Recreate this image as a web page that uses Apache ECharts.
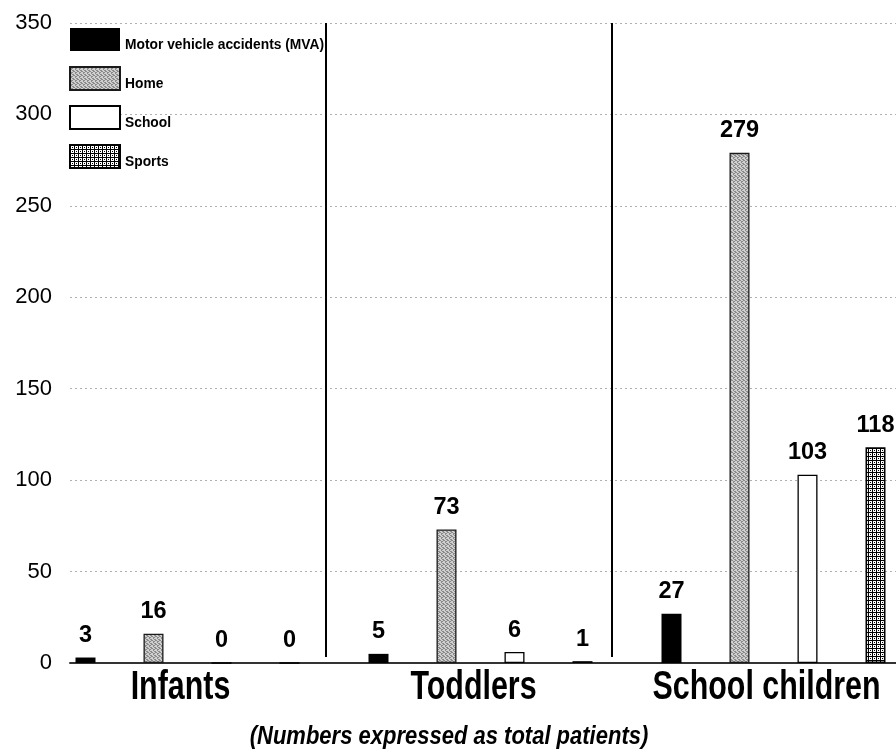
<!DOCTYPE html>
<html>
<head>
<meta charset="utf-8">
<script src="https://cdn.jsdelivr.net/npm/echarts@6/dist/echarts.min.js"></script>
<style>
  html, body { margin: 0; padding: 0; background: #fff; }
  #chart { width: 896px; height: 750px; }
</style>
</head>
<body>
<div id="chart"></div>
<script>
// Injury setting by age group (total patients)
const categories = ['Infants', 'Toddlers', 'School children'];
const seriesNames = ['Motor vehicle accidents (MVA)', 'Home', 'School', 'Sports'];
const mvaValues = [3, 5, 27];
const homeValues = [16, 73, 279];
const schoolValues = [0, 6, 103];
const sportsValues = [0, 1, 118];
const yMin = 0, yMax = 350, yStep = 50;
const footnote = '(Numbers expressed as total patients)';

const SANS = "'Liberation Sans', Arial, sans-serif";

// Small repeating tiles for the hatched bar fills
function makeTile(w, h, paint) {
  const c = document.createElement('canvas');
  c.width = w; c.height = h;
  const ctx = c.getContext('2d');
  paint(ctx);
  return c;
}
const stippleTile = makeTile(4, 4, ctx => {
  ctx.fillStyle = '#cfcfcf'; ctx.fillRect(0, 0, 4, 4);
  ctx.fillStyle = '#8a8a8a';
  [[0,0],[2,1],[1,2],[3,3],[3,0],[1,1],[2,3]].forEach(([x, y]) => ctx.fillRect(x, y, 1, 1));
});
const gridTile = makeTile(4, 4, ctx => {
  ctx.fillStyle = '#ffffff'; ctx.fillRect(0, 0, 4, 4);
  ctx.fillStyle = '#000000';
  ctx.fillRect(0, 0, 4, 1);
  ctx.fillRect(0, 0, 1, 4);
  ctx.fillRect(2, 2, 1, 1);
});

const styles = [
  { color: '#000000', borderColor: '#000000', borderWidth: 0 },
  { color: { image: stippleTile, repeat: 'repeat' }, borderColor: '#1a1a1a', borderWidth: 1.3 },
  { color: '#ffffff', borderColor: '#000000', borderWidth: 1.3 },
  { color: { image: gridTile, repeat: 'repeat' }, borderColor: '#000000', borderWidth: 1.6 }
];
const valueSets = [mvaValues, homeValues, schoolValues, sportsValues];

const chart = echarts.init(document.getElementById('chart'), null, { renderer: 'canvas' });

chart.setOption({
  animation: false,
  backgroundColor: '#ffffff',
  legend: {
    orient: 'vertical',
    left: 69,
    top: 28,
    padding: 0,
    itemWidth: 50,
    itemHeight: 23,
    itemGap: 14,
    selectedMode: false,
    icon: 'rect',
    data: seriesNames,
    formatter: name => '{t|' + name + '}',
    textStyle: {
      rich: {
        t: { fontFamily: SANS, fontWeight: 'bold', fontSize: 13.8, color: '#000', padding: [11, 0, 0, 0] }
      }
    }
  },
  grid: [
    // bars (the last band runs slightly past the right edge)
    { left: 41, width: 879, top: 23, bottom: 87, outerBoundsMode: 'none', containLabel: false },
    // frame: value axis, guide lines and baseline
    { left: 70, right: 0, top: 23, bottom: 87, outerBoundsMode: 'none', containLabel: false },
    // group dividers
    { left: 40, width: 858, top: 23, bottom: 93, outerBoundsMode: 'none', containLabel: false }
  ],
  xAxis: [
    {
      type: 'category', gridIndex: 0, data: categories,
      axisLine: { show: false }, axisTick: { show: false }, axisLabel: { show: false }
    },
    {
      type: 'value', gridIndex: 1, min: 0, max: 1,
      axisLine: { show: true, onZero: true, lineStyle: { color: '#333', width: 2 } },
      axisTick: { show: false }, axisLabel: { show: false }, splitLine: { show: false }
    },
    {
      type: 'value', gridIndex: 2, min: 0, max: 3, interval: 1,
      axisLine: { show: false }, axisTick: { show: false }, axisLabel: { show: false },
      splitLine: { show: true, showMinLine: false, showMaxLine: false, lineStyle: { color: '#000', width: 2 } }
    }
  ],
  yAxis: [
    { type: 'value', gridIndex: 0, min: yMin, max: yMax, interval: yStep, show: false },
    {
      type: 'value', gridIndex: 1, min: yMin, max: yMax, interval: yStep,
      axisLine: { show: false }, axisTick: { show: false },
      axisLabel: { margin: 18, color: '#000', fontFamily: SANS, fontSize: 22 },
      splitLine: { show: true, lineStyle: { color: '#b0b0b0', width: 1, type: [2, 3] } }
    },
    { type: 'value', gridIndex: 2, min: 0, max: 1, show: false }
  ],
  series: seriesNames.map((name, i) => ({
    name,
    type: 'bar',
    xAxisIndex: 0,
    yAxisIndex: 0,
    data: valueSets[i],
    barWidth: 20,
    barGap: '240%',
    itemStyle: styles[i],
    label: {
      show: true, position: 'top', distance: 10,
      color: '#000', fontFamily: SANS, fontWeight: 'bold', fontSize: 23.5
    }
  }))
});

// Condensed category names under each group, placed from the category axis,
// plus the italic footnote beneath them
const labelY = 688;
const catTexts = categories.map((name, i) => {
  const x = chart.convertToPixel({ xAxisIndex: 0 }, i) - 7;
  return {
    type: 'text', x, y: labelY, scaleX: 0.76, silent: true,
    style: {
      text: name, fill: '#000', align: 'center', verticalAlign: 'middle',
      font: "bold 40px 'Liberation Sans', Arial, sans-serif"
    }
  };
});
chart.setOption({
  graphic: catTexts.concat([{
    type: 'text', x: 449, y: 737, scaleX: 0.88, silent: true,
    style: {
      text: footnote, fill: '#000', align: 'center', verticalAlign: 'middle',
      font: "italic bold 25px 'Liberation Sans', Arial, sans-serif"
    }
  }])
});
</script>
</body>
</html>
